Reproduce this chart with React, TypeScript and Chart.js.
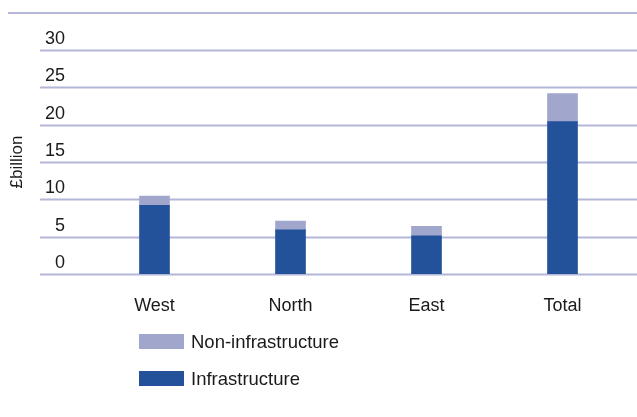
import React, { useEffect, useRef } from 'react';
import { Chart, registerables } from 'chart.js';

Chart.register(...registerables);

const categories = ['West', 'North', 'East', 'Total'];
const infrastructure = [9.2, 5.9, 5.1, 20.4];
const nonInfrastructure = [1.25, 1.2, 1.3, 3.75];
const yTicks = [0, 5, 10, 15, 20, 25, 30];

const FONT = "'Liberation Sans', Arial, Helvetica, sans-serif";
const GRID = '#b3b6d7';
const TEXT = '#1a1a1a';
const DARK = '#23529a';
const LIGHT = '#a1a6cd';

const decorPlugin = {
  id: 'decor',
  beforeDatasetsDraw(chart: any) {
    const ctx = chart.ctx;
    const y = chart.scales.y;
    ctx.save();
    ctx.strokeStyle = GRID;
    ctx.lineWidth = 2;
    // top rule
    ctx.beginPath();
    ctx.moveTo(8, 13);
    ctx.lineTo(chart.width, 13);
    ctx.stroke();
    // horizontal gridlines extending into the axis area
    y.ticks.forEach((t: any) => {
      const py = Math.round(y.getPixelForValue(t.value)) + 0.5;
      ctx.beginPath();
      ctx.moveTo(40, py);
      ctx.lineTo(chart.width, py);
      ctx.stroke();
    });
    ctx.restore();
  },
  afterDraw(chart: any) {
    const ctx = chart.ctx;
    const ds = chart.data.datasets.slice().reverse();
    ctx.save();
    ctx.font = `18.5px ${FONT}`;
    ctx.textBaseline = 'middle';
    ctx.textAlign = 'left';
    ds.forEach((d: any, i: number) => {
      const top = chart.chartArea.bottom + 60 + i * 37;
      ctx.fillStyle = d.backgroundColor;
      ctx.fillRect(139, top, 45, 15);
      ctx.fillStyle = TEXT;
      ctx.fillText(d.label, 191, top + 8.5);
    });
    ctx.restore();
  },
};

export default function App() {
  const ref = useRef<HTMLCanvasElement | null>(null);

  useEffect(() => {
    if (!ref.current) return;
    const chart = new Chart(ref.current, {
      type: 'bar',
      data: {
        labels: categories,
        datasets: [
          {
            label: 'Infrastructure',
            data: infrastructure,
            backgroundColor: DARK,
            barThickness: 30,
            stack: 's',
          },
          {
            label: 'Non-infrastructure',
            data: nonInfrastructure,
            backgroundColor: LIGHT,
            barThickness: 30,
            stack: 's',
          },
        ],
      },
      options: {
        animation: false,
        responsive: true,
        maintainAspectRatio: false,
        layout: { padding: { top: 50, right: 6.5, bottom: 100, left: 0 } },
        plugins: {
          legend: { display: false },
          tooltip: { enabled: false },
        },
        scales: {
          x: {
            stacked: true,
            grid: { display: false, drawTicks: false },
            border: { display: false },
            ticks: {
              padding: 21,
              color: TEXT,
              font: { family: FONT, size: 18 },
            },
            afterFit(axis: any) {
              axis.height = 43;
            },
          },
          y: {
            stacked: true,
            min: yTicks[0],
            max: yTicks[yTicks.length - 1],
            grid: { display: false, drawTicks: false },
            border: { display: false },
            ticks: {
              stepSize: yTicks[1] - yTicks[0],
              padding: 21.5,
              labelOffset: -11,
              color: TEXT,
              font: { family: FONT, size: 18 },
            },
            title: {
              display: true,
              text: '£billion',
              color: TEXT,
              font: { family: FONT, size: 17 },
              padding: { top: 7, bottom: 0 },
            },
            afterFit(axis: any) {
              axis.width = 86.5;
            },
          },
        },
      },
      plugins: [decorPlugin],
    });
    return () => chart.destroy();
  }, []);

  return (
    <div style={{ position: 'absolute', left: 0, top: 0, width: 637, height: 417, background: '#fff' }}>
      <canvas ref={ref} />
    </div>
  );
}
